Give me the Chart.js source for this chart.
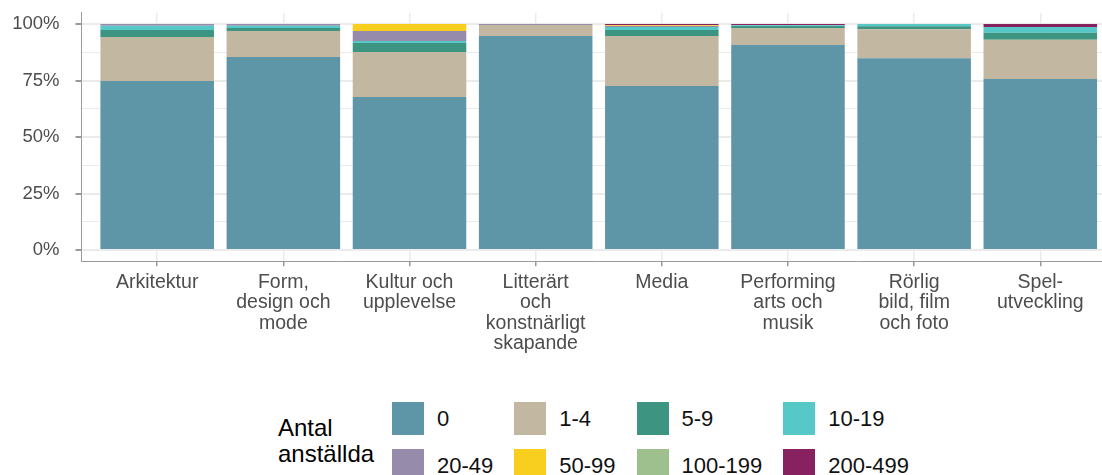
<!DOCTYPE html>
<html>
<head>
<meta charset="utf-8">
<script src="https://cdn.jsdelivr.net/npm/chart.js@4/dist/chart.umd.min.js"></script>
<style>
  html, body { margin: 0; padding: 0; background: #fff; }
  #page { position: relative; width: 1102px; height: 475px; overflow: hidden; font-family: "Liberation Sans", Arial, sans-serif; }
  #wrap { position: absolute; left: 0; top: 0; width: 1116px; height: 370px; }
  #legendTitle { position: absolute; left: 278px; top: 415px; font-size: 24px; line-height: 26px; color: #000; }
  #legend { position: absolute; left: 392px; top: 402px; display: grid; grid-template-columns: repeat(4, auto); row-gap: 14px; }
  .item { display: flex; align-items: center; padding-right: 21px; }
  .box { width: 32px; height: 33px; margin-right: 13px; }
  .lab { font-size: 22px; color: #111; white-space: nowrap; }
</style>
</head>
<body>
<div id="page">
  <div id="wrap"><canvas id="chart"></canvas></div>
  <div id="legendTitle">Antal<br>anställda</div>
  <div id="legend"></div>
</div>
<script>
// categories (axis labels, split into lines as shown)
const categories = [
  ["Arkitektur"],
  ["Form,", "design och", "mode"],
  ["Kultur och", "upplevelse"],
  ["Litterärt", "och", "konstnärligt", "skapande"],
  ["Media"],
  ["Performing", "arts och", "musik"],
  ["Rörlig", "bild, film", "och foto"],
  ["Spel-", "utveckling"]
];

// share of companies (%) per size class
const size0     = [74.8, 85.4, 67.7, 94.7, 72.6, 90.7, 84.9, 75.7];
const size1_4   = [19.5, 11.5, 19.9, 4.9, 22.1, 7.5, 12.8, 17.3];
const size5_9   = [3.1, 1.3, 4.0, 0, 2.7, 0.9, 1.3, 3.1];
const size10_19 = [1.8, 1.0, 0.9, 0, 1.3, 0.3, 1.0, 2.6];
const size20_49 = [0.8, 0.8, 4.4, 0.4, 0.4, 0.2, 0, 0];
const size50_99 = [0, 0, 3.1, 0, 0.3, 0, 0, 0];
const size100_199 = [0, 0, 0, 0, 0.2, 0, 0, 0];
const size200_499 = [0, 0, 0, 0, 0.4, 0.4, 0, 1.3];

const seriesNames = ["0", "1-4", "5-9", "10-19", "20-49", "50-99", "100-199", "200-499"];
const seriesValues = [size0, size1_4, size5_9, size10_19, size20_49, size50_99, size100_199, size200_499];
const seriesColors = ["#5e96a8", "#c2b7a0", "#3d9481", "#56c8c8", "#978bac", "#f9cf1f", "#9ec08f", "#88215f"];

const yTicks = [0, 12.5, 25, 37.5, 50, 62.5, 75, 87.5, 100];

const isMajor = (v) => v % 25 === 0;

new Chart(document.getElementById("chart"), {
  type: "bar",
  data: {
    datasets: seriesNames.map((name, s) => ({
      label: name,
      data: seriesValues[s].map((v, i) => ({ x: i, y: v })),
      backgroundColor: seriesColors[s],
      borderWidth: 0,
      categoryPercentage: 0.9,
      barPercentage: 1
    }))
  },
  options: {
    responsive: true,
    maintainAspectRatio: false,
    animation: false,
    layout: { padding: { top: 12.7, left: 0, right: 0, bottom: 0 } },
    plugins: { legend: { display: false }, tooltip: { enabled: false } },
    scales: {
      x: {
        type: "linear",
        stacked: true,
        offset: false,
        min: -0.6,
        max: 7.6,
        afterBuildTicks: (s) => { s.ticks = categories.map((c, i) => ({ value: i })); },
        afterFit: (s) => { s.height = 108.7; s.paddingLeft = 0; s.paddingRight = 0; },
        border: { display: true, color: "#9a9a9a", width: 1 },
        grid: { offset: false, color: "#ebebeb", lineWidth: 1.5, tickColor: "#9a9a9a", tickLength: 5, drawTicks: true },
        ticks: {
          autoSkip: false,
          maxRotation: 0,
          padding: 6,
          color: "#4d4d4d",
          font: { family: "Liberation Sans, Arial, sans-serif", size: 19.5, lineHeight: 1.05 },
          callback: (v) => categories[v]
        }
      },
      y: {
        stacked: true,
        min: -5,
        max: 105,
        afterBuildTicks: (s) => { s.ticks = yTicks.map((v) => ({ value: v })); },
        afterFit: (s) => { s.width = 81.5; s.paddingTop = 0; s.paddingBottom = 0; },
        border: { display: true, color: "#9a9a9a", width: 1 },
        grid: {
          color: "#ebebeb",
          lineWidth: (ctx) => (ctx.tick && isMajor(ctx.tick.value) ? 2 : 1),
          tickColor: (ctx) => (ctx.tick && isMajor(ctx.tick.value) ? "#9a9a9a" : "rgba(0,0,0,0)"),
          tickLength: 6
        },
        ticks: {
          padding: 16,
          color: "#4d4d4d",
          font: { family: "Liberation Sans, Arial, sans-serif", size: 18.5 },
          callback: (v) => (isMajor(v) ? v + "%" : "")
        }
      }
    }
  }
});

// legend built from the same series arrays
const legend = document.getElementById("legend");
seriesNames.forEach((name, s) => {
  const item = document.createElement("div");
  item.className = "item";
  item.innerHTML = '<div class="box" style="background:' + seriesColors[s] + '"></div><span class="lab">' + name + "</span>";
  legend.appendChild(item);
});
</script>
</body>
</html>
